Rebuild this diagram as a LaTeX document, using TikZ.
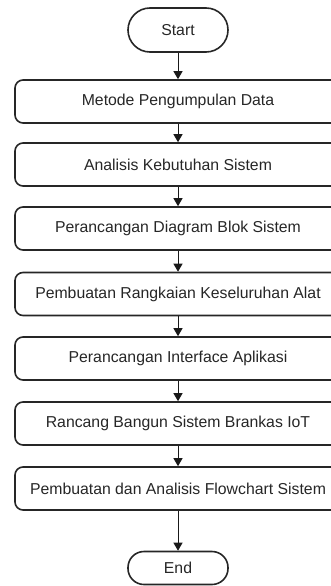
\documentclass[tikz,border=0pt]{standalone}
\usepackage{fontspec}
\setmainfont{Liberation Sans}
\usetikzlibrary{arrows.meta}
\tikzset{
  stepbox/.style={draw=black!85, line width=1.6pt, rounded corners=8pt, minimum width=326pt, minimum height=43pt, inner sep=0pt, font=\fontsize{15.8}{18}\selectfont, text=black!85},
  term/.style={draw=black!85, line width=1.6pt, rounded corners=16pt, minimum width=100pt, inner sep=0pt, font=\fontsize{15.8}{18}\selectfont, text=black!85},
  flow/.style={draw=black!90, line width=1pt, -{Triangle[length=8pt,width=9pt]}}
}
\begin{document}
\begin{tikzpicture}[x=1pt,y=-1pt]
\useasboundingbox (0,0) rectangle (331,586);
\clip (0,0) rectangle (331,586);
\node[term, minimum height=44pt, rounded corners=22pt] (start) at (178,30) {Start};
\node[stepbox] (b1) at (178,101.5) {Metode Pengumpulan Data};
\node[stepbox] (b2) at (178,164.5) {Analisis Kebutuhan Sistem};
\node[stepbox] (b3) at (178,228.5) {Perancangan Diagram Blok Sistem};
\node[stepbox] (b4) at (178,294) {Pembuatan Rangkaian Keseluruhan Alat};
\node[stepbox] (b5) at (178,358.5) {Perancangan Interface Aplikasi};
\node[stepbox] (b6) at (178,423.5) {Rancang Bangun Sistem Brankas IoT};
\node[stepbox] (b7) at (178,488.5) {Pembuatan dan Analisis Flowchart Sistem};
\node[term, minimum height=33pt] (end) at (178,568) {End};
\draw[flow] (start) -- (b1);
\draw[flow] (b1) -- (b2);
\draw[flow] (b2) -- (b3);
\draw[flow] (b3) -- (b4);
\draw[flow] (b4) -- (b5);
\draw[flow] (b5) -- (b6);
\draw[flow] (b6) -- (b7);
\draw[flow] (b7) -- (end);
\end{tikzpicture}
\end{document}
